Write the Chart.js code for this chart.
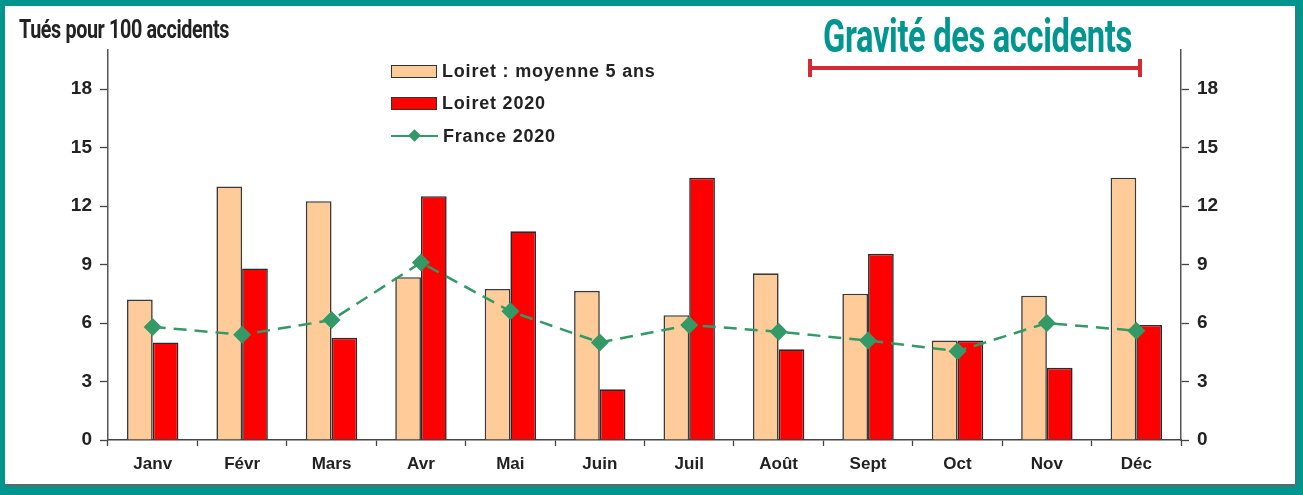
<!DOCTYPE html>
<html lang="fr">
<head>
  <meta charset="UTF-8">
  <title>Gravité des accidents</title>
  <style>
    html, body { margin: 0; padding: 0; }
    body { width: 1303px; height: 495px; background: #00968f; position: relative; overflow: hidden; font-family: "Liberation Sans", Arial, sans-serif; }
    .panel { position: absolute; left: 5px; top: 6px; width: 1290px; height: 478px; background: #fff; box-shadow: 1px 2px 2px #666; }
    #wrap { position: absolute; left: 0; top: 0; width: 1303px; height: 495px; }
    .cond { position: absolute; font-family: Roboto, "Liberation Sans", sans-serif; font-weight: 700; white-space: nowrap; transform-origin: left top; }
    #ytitle { left: 19px; top: 14px; font-size: 26px; color: #222; transform: scaleX(0.76); letter-spacing: -0.5px; }
    #title { left: 823px; top: 8px; font-size: 47px; color: #00968f; transform: scaleX(0.695); letter-spacing: -0.5px; }
    #bracket { position: absolute; left: 808px; top: 66px; width: 334px; height: 4px; background: #d42a32; }
    #bracket::before, #bracket::after { content: ""; position: absolute; top: -7px; width: 4px; height: 18px; background: #d42a32; }
    #bracket::before { left: 0; }
    #bracket::after { right: 0; }
    #legend { position: absolute; left: 391px; top: 55px; font-size: 18px; letter-spacing: 0.8px; font-weight: 700; color: #222; }
    #legend .row { height: 32.5px; display: flex; align-items: center; }
    #legend .sw { width: 44px; height: 11px; border: 1.5px solid #333; margin-right: 5px; }
    #legend .ln { width: 47px; height: 12px; margin-right: 5px; position: relative; }
    #legend .ln::before { content: ""; position: absolute; left: 0; right: 0; top: 5px; height: 2px; background: #339966; }
    #legend .ln::after { content: ""; position: absolute; left: 19px; top: 1px; width: 9px; height: 9px; background: #339966; transform: rotate(45deg); }
  </style>
</head>
<body>
  <div class="panel"></div>
  <div id="wrap"><canvas id="grafico" width="1303" height="495"></canvas></div>
  <div class="cond" id="ytitle">Tués pour 100 accidents</div>
  <div class="cond" id="title">Gravité des accidents</div>
  <div id="bracket"></div>
  <div id="legend"></div>

  <script src="https://cdn.jsdelivr.net/npm/chart.js"></script>
  <script>
    // données
    const mois = ["Janv", "Févr", "Mars", "Avr", "Mai", "Juin", "Juil", "Août", "Sept", "Oct", "Nov", "Déc"];
    const loiretMoyenne5ans = [7.2, 13.0, 12.25, 8.35, 7.75, 7.65, 6.4, 8.55, 7.5, 5.1, 7.4, 13.45];
    const loiret2020 = [5.0, 8.8, 5.25, 12.5, 10.7, 2.6, 13.45, 4.65, 9.55, 5.1, 3.7, 5.9];
    const france2020 = [5.8, 5.4, 6.15, 9.1, 6.6, 5.0, 5.9, 5.55, 5.1, 4.55, 6.0, 5.6];
    const yTicks = [0, 3, 6, 9, 12, 15, 18];
    const yMax = 20;

    document.addEventListener("DOMContentLoaded", () => {
      const lienzo = document.getElementById("grafico");
      const police = { family: "'Liberation Sans', Arial, sans-serif", weight: "bold", size: 19 };

      const axeY = (position, largeur) => ({
        position: position,
        min: 0,
        max: yMax,
        afterBuildTicks: s => { s.ticks = yTicks.map(v => ({ value: v })); },
        afterFit: s => { s.width = largeur; },
        border: { color: "#555", width: 1.5 },
        grid: { drawOnChartArea: false, drawTicks: true, tickLength: 8, tickColor: "#444", tickWidth: 1.3 },
        ticks: { color: "#222", font: police, padding: 8 }
      });

      const graphique = new Chart(lienzo, {
        type: "bar",
        data: {
          labels: mois,
          datasets: [
            {
              type: "line",
              label: "France 2020",
              data: france2020,
              borderColor: "#339966",
              backgroundColor: "#339966",
              borderWidth: 2.5,
              borderDash: [13, 8],
              tension: 0,
              pointStyle: "rectRot",
              pointRadius: 9,
              pointHoverRadius: 9,
              pointBorderWidth: 0,
              order: 0
            },
            {
              label: "Loiret : moyenne 5 ans",
              data: loiretMoyenne5ans,
              backgroundColor: "#ffcc99",
              borderColor: "#3a3a3a",
              borderWidth: 1.6,
              order: 1
            },
            {
              label: "Loiret 2020",
              data: loiret2020,
              backgroundColor: "#ff0000",
              borderColor: "#2a2a2a",
              borderWidth: 1.6,
              order: 1
            }
          ]
        },
        options: {
          responsive: false,
          animation: false,
          layout: { padding: { left: 0, right: 0, top: 50, bottom: 0 } },
          datasets: { bar: { categoryPercentage: 0.575, barPercentage: 1.0 } },
          plugins: { legend: { display: false }, tooltip: { enabled: false } },
          scales: {
            x: {
              offset: true,
              afterFit: s => { s.height = 55; },
              border: { color: "#444", width: 1.5 },
              grid: { offset: true, drawOnChartArea: false, drawTicks: true, tickLength: 6, tickColor: "#444", tickWidth: 1.3 },
              ticks: { color: "#222", font: { ...police, size: 17 }, padding: 8 }
            },
            y: axeY("left", 108),
            y2: axeY("right", 122)
          }
        }
      });

      // légende en HTML, dans l'ordre de l'original
      const legende = document.getElementById("legend");
      [1, 2, 0].forEach(i => {
        const ds = graphique.data.datasets[i];
        const ligne = document.createElement("div");
        ligne.className = "row";
        const sw = document.createElement("span");
        if (ds.type === "line") {
          sw.className = "ln";
        } else {
          sw.className = "sw";
          sw.style.background = ds.backgroundColor;
        }
        ligne.appendChild(sw);
        ligne.appendChild(document.createTextNode(ds.label));
        legende.appendChild(ligne);
      });
    });
  </script>
</body>
</html>
